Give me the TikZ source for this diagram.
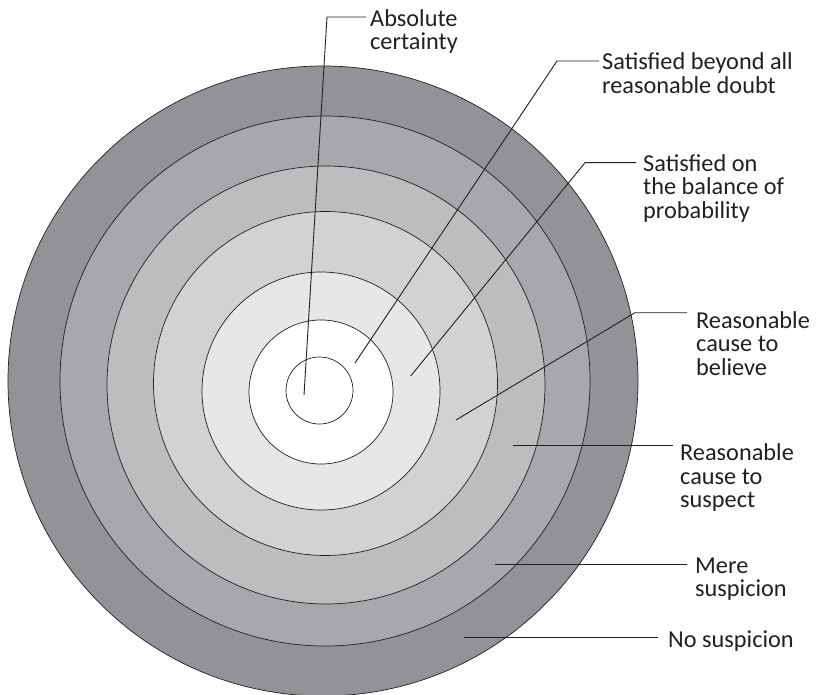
\documentclass[tikz,border=0pt]{standalone}
\usepackage{fontspec}
\setmainfont{Carlito}
\definecolor{ringG}{HTML}{929397}
\definecolor{ringF}{HTML}{A7A8AB}
\definecolor{ringE}{HTML}{BCBDBF}
\definecolor{ringD}{HTML}{D1D2D4}
\definecolor{ringC}{HTML}{E6E7E8}
\definecolor{ringB}{HTML}{FFFFFF}
\definecolor{ringA}{HTML}{FFFFFF}
\definecolor{inkc}{HTML}{231F20}
\begin{document}
\begin{tikzpicture}[x=1pt,y=-1pt,
  ring/.style={draw=inkc, line width=0.7pt},
  leader/.style={draw=inkc, line width=0.9pt},
  % labels are placed by the baseline of their last line
  tag/.style={anchor=base west, inner sep=0pt, align=left, text=inkc,
    font=\fontsize{24.3}{23.3}\selectfont}]
\useasboundingbox (0,0) rectangle (816,695);

% nested zones, outermost first
\filldraw[ring, fill=ringG] (323,381) circle[radius=315];
\filldraw[ring, fill=ringF] (325,381) circle[radius=265];
\filldraw[ring, fill=ringE] (326,385) circle[radius=219];
\filldraw[ring, fill=ringD] (325.5,383.5) circle[radius=172];
\filldraw[ring, fill=ringC] (321,391) circle[radius=119];
\filldraw[ring, fill=ringB] (321,392) circle[radius=72];
\filldraw[ring, fill=ringA] (319.5,390.5) circle[radius=33.5];

% labels
\node[tag] (t1) at (370,50.0) {Absolute\\certainty};
\node[tag] (t2) at (602,93.3) {Satisfied beyond all\\reasonable doubt};
\node[tag] (t3) at (643,218.3) {Satisfied on\\the balance of\\probability};
\node[tag] (t4) at (696,375.1) {Reasonable\\cause to\\believe};
\node[tag] (t5) at (680,507.3) {Reasonable\\cause to\\suspect};
\node[tag] (t6) at (695,596.6) {Mere\\suspicion};
\node[tag] (t7) at (668,647.3) {No suspicion};

% leader points
\coordinate (s1) at (304,395);   \coordinate (k1) at (327,17);    \coordinate (e1) at (366,17);
\coordinate (s2) at (355,363);   \coordinate (k2) at (557,61);    \coordinate (e2) at (599,61);
\coordinate (s3) at (410.7,376); \coordinate (k3) at (585,162.7); \coordinate (e3) at (636,162.7);
\coordinate (s4) at (456,420);   \coordinate (k4) at (635,312.7); \coordinate (e4) at (687,312.7);
\coordinate (s5) at (513,445.5); \coordinate (e5) at (673,445.5);
\coordinate (s6) at (495,564);   \coordinate (e6) at (687,564);
\coordinate (s7) at (464,637);   \coordinate (e7) at (658,637);

% leaders
\draw[leader] (s1) -- (k1) -- (e1);
\draw[leader] (s2) -- (k2) -- (e2);
\draw[leader] (s3) -- (k3) -- (e3);
\draw[leader] (s4) -- (k4) -- (e4);
\draw[leader] (s5) -- (e5);
\draw[leader] (s6) -- (e6);
\draw[leader] (s7) -- (e7);
\end{tikzpicture}
\end{document}
